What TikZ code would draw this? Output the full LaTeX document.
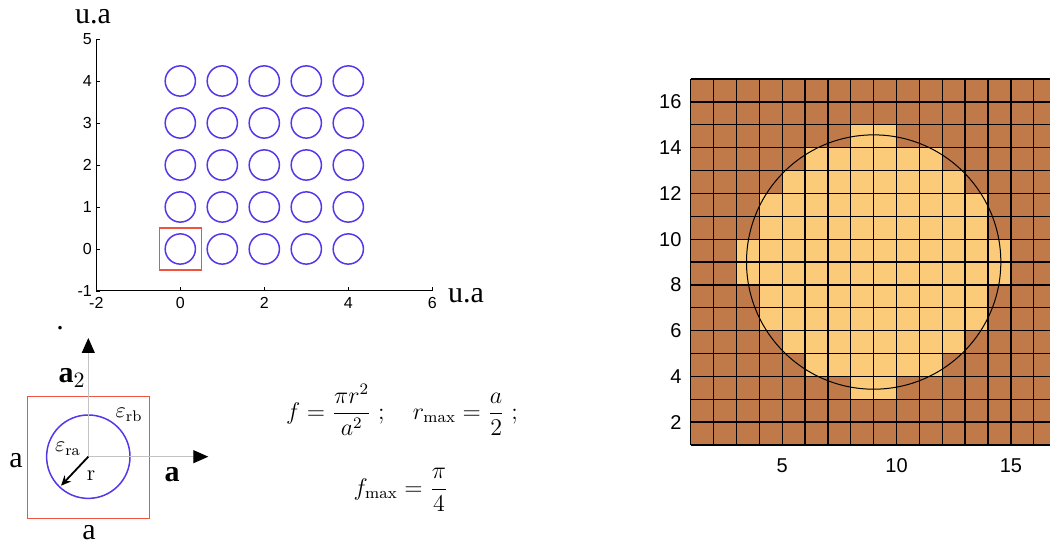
\documentclass[tikz,border=0pt]{standalone}
\usepackage{amsmath,amssymb}
\usepackage{fontspec}
\usepackage{tikz}
\usetikzlibrary{arrows.meta}
\newfontfamily\plotfont{Liberation Sans}
\newfontfamily\labelfont{Liberation Serif}
\definecolor{rodblue}{RGB}{85,55,235}
\definecolor{cellred}{RGB}{238,85,65}
\definecolor{cellbrown}{RGB}{192,122,74}
\definecolor{celltan}{RGB}{251,203,121}
\definecolor{axisgray}{RGB}{195,195,195}

\begin{document}
\begin{tikzpicture}[
  x=0.5pt,y=-0.5pt,
  ticklab/.style={font=\plotfont\fontsize{8}{9}\selectfont, inner sep=1pt},
  gridlab/.style={font=\plotfont\fontsize{10}{11}\selectfont, inner sep=1pt},
  unitlab/.style={font=\labelfont\fontsize{15}{16}\selectfont, inner sep=0pt},
  veclab/.style={font=\labelfont\bfseries\fontsize{15}{16}\selectfont, inner sep=0pt},
  epslab/.style={font=\fontsize{11}{12}\selectfont, inner sep=0pt},
  rod/.style={draw=rodblue, line width=0.75pt},
  cellbox/.style={draw=cellred, line width=0.6pt},
  axisvec/.style={draw=axisgray, line width=0.6pt, -{Triangle[length=7.5pt,width=6.5pt,color=black]}},
  rvec/.style={draw=black, line width=0.9pt, -{Stealth[length=5pt,width=4.5pt]}},
  formula/.style={font=\fontsize{12}{14}\selectfont, inner sep=0pt}
]
\useasboundingbox (0,0) rectangle (1050,544);
\clip (0,0) rectangle (1050,544);

% lattice of rods
\begin{scope}[shift={(180.3,249)}, x=21pt, y=21pt]
  \draw[line width=0.5pt] (-2,5) -- (-2,-1) -- (6,-1);
  \foreach \k in {-1,...,5} {
    \draw[line width=0.4pt] (-2,\k) -- ++(0.08,0);
    \node[ticklab, anchor=east] (yt\k) at (-2.05,\k) {\k};
  }
  \foreach \k in {-2,0,...,6} {
    \draw[line width=0.4pt] (\k,-1) -- ++(0,0.1);
    \node[ticklab, anchor=north] (xt\k) at (\k,-1.1) {\k};
  }
  \foreach \i in {0,...,4}
    \foreach \j in {0,...,4}
      \draw[rod] (\i,\j) circle[radius=0.36];
  \draw[cellbox] (-0.5,-0.5) rectangle (0.5,0.5);
\end{scope}
\node[unitlab] (yunit) at (93,17) {u.a};
\node[unitlab] (xunit) at (466,296) {u.a};
\node[unitlab] (dot) at (60,328) {.};

% unit cell
\coordinate (o) at (88.3,456.7);
\coordinate (up) at (88.3,338);
\coordinate (right) at (208.3,456.7);
\coordinate (rtip) at (61,485.7);
\draw[cellbox] (27.7,396.7) rectangle (149.3,518.3);
\draw[rod] (o) circle[radius=41.7];
\draw[axisvec] (o) -- (up);
\draw[axisvec] (o) -- (right);
\draw[rvec] (o) -- (rtip);
\node[veclab] (atwo) at (72,378) {a$_2$};
\node[veclab] (aone) at (172,475) {a};
\node[unitlab] (aleft) at (16,461) {a};
\node[unitlab] (abottom) at (89,533) {a};
\node[epslab] (epsb) at (129,415) {$\varepsilon_{\mathrm{rb}}$};
\node[epslab] (epsa) at (68,449) {$\varepsilon_{\mathrm{ra}}$};
\node[epslab] (rlab) at (91,476) {r};

% filling fraction
\node[formula] (ffill) at (402,410) {$f=\dfrac{\pi r^{2}}{a^{2}}\;;\quad r_{\max}=\dfrac{a}{2}\;;$};
\node[formula] (fmax) at (401,490) {$f_{\max}=\dfrac{\pi}{4}$};

% discretised cell
\begin{scope}[shift={(667.83,467.87)}, x=11.435pt, y=11.435pt]
  \fill[cellbrown] (1,1) rectangle (17,17);
  \foreach \i in {1,...,16}
    \foreach \j in {1,...,16} {
      \pgfmathtruncatemacro\inside{((\i-8.5)*(\i-8.5)+(\j-8.5)*(\j-8.5)<31)}
      \ifnum\inside=1 \fill[celltan] (\i,\j) rectangle ++(1,1); \fi
    }
  \draw[line width=0.65pt, step={(1,1)}] (1,1) grid (17,17);
  \draw[line width=0.5pt] (9,9) circle[radius=5.56];
  \foreach \k in {2,4,...,16}
    \node[gridlab, anchor=east] (gy\k) at (0.7,\k) {\k};
  \foreach \k in {5,10,15}
    \node[gridlab, anchor=north] (gx\k) at (\k,0.5) {\k};
\end{scope}
\end{tikzpicture}
\end{document}
